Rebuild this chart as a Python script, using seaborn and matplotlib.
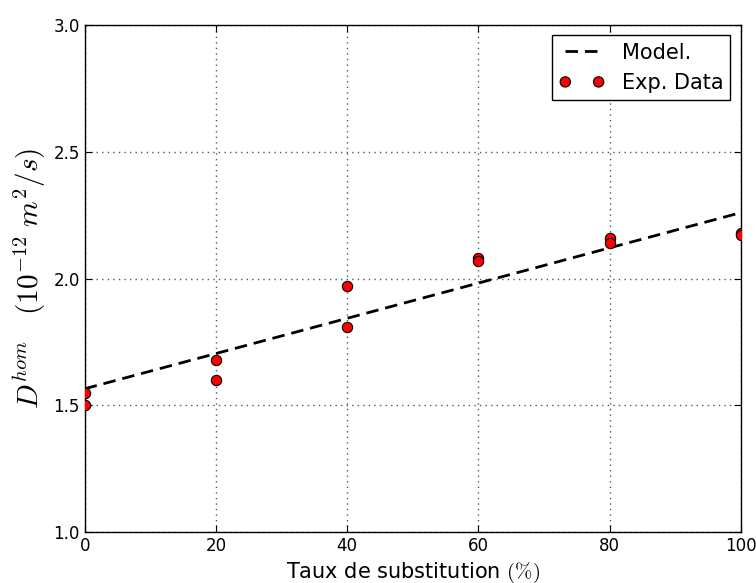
import numpy as np
import pandas as pd
import matplotlib
matplotlib.use("Agg")
import matplotlib.pyplot as plt
import seaborn as sns

# taux de substitution (%) et coefficients mesures
taux_exp = [0, 0, 20, 20, 40, 40, 60, 60, 80, 80, 100, 100]
d_exp = [1.55, 1.50, 1.68, 1.60, 1.97, 1.81, 2.08, 2.07, 2.16, 2.14, 2.18, 2.17]

# modele (droite)
taux_mod = [0, 100]
d_mod = [1.565, 2.26]

sns.set_style("ticks")
plt.rcParams['font.family'] = ['DejaVu Sans']
plt.rcParams['mathtext.fontset'] = 'cm'
plt.rcParams['text.color'] = 'black'
plt.rcParams['axes.labelcolor'] = 'black'

df_exp = pd.DataFrame({'taux': taux_exp, 'D': d_exp})
df_mod = pd.DataFrame({'taux': taux_mod, 'D': d_mod})

fig = plt.figure(figsize=(7.56, 5.83), dpi=100)
ax = fig.add_axes([0.112, 0.0875, 0.868, 0.8695])

sns.lineplot(data=df_mod, x='taux', y='D', ax=ax, color='black', lw=2,
             linestyle=(0, (4.5, 2.5)), label='Model.')
sns.scatterplot(data=df_exp, x='taux', y='D', ax=ax, color='red',
                edgecolor='black', linewidth=0.8, s=55, label='Exp. Data', zorder=3)

ax.set_xlim(0, 100)
ax.set_ylim(1.0, 3.0)
ax.set_xticks([0, 20, 40, 60, 80, 100])
ax.set_yticks([1.0, 1.5, 2.0, 2.5, 3.0])
ax.yaxis.set_major_formatter(matplotlib.ticker.FormatStrFormatter('%.1f'))
ax.grid(True, color='0.35', linestyle=(0, (1, 3)), linewidth=1.0)
ax.tick_params(direction='in', length=5, top=True, right=True, labelsize=12, colors='black')
for sp in ax.spines.values():
    sp.set_color('black')
    sp.set_linewidth(1.0)

ax.set_xlabel(r'Taux de substitution $(\%)$', fontsize=15)
ax.set_ylabel(r'$D^{hom}\quad(10^{-12}\ m^2/s)$', fontsize=21)

leg = ax.legend(loc='upper right', numpoints=2, scatterpoints=2,
                scatteryoffsets=[0.5], fontsize=15, handlelength=2.2,
                fancybox=False, framealpha=1, edgecolor='black', borderpad=0.35)
leg.get_frame().set_linewidth(1.0)
for t in leg.get_texts():
    t.set_color('black')

fig.savefig('out.png', dpi=100)
